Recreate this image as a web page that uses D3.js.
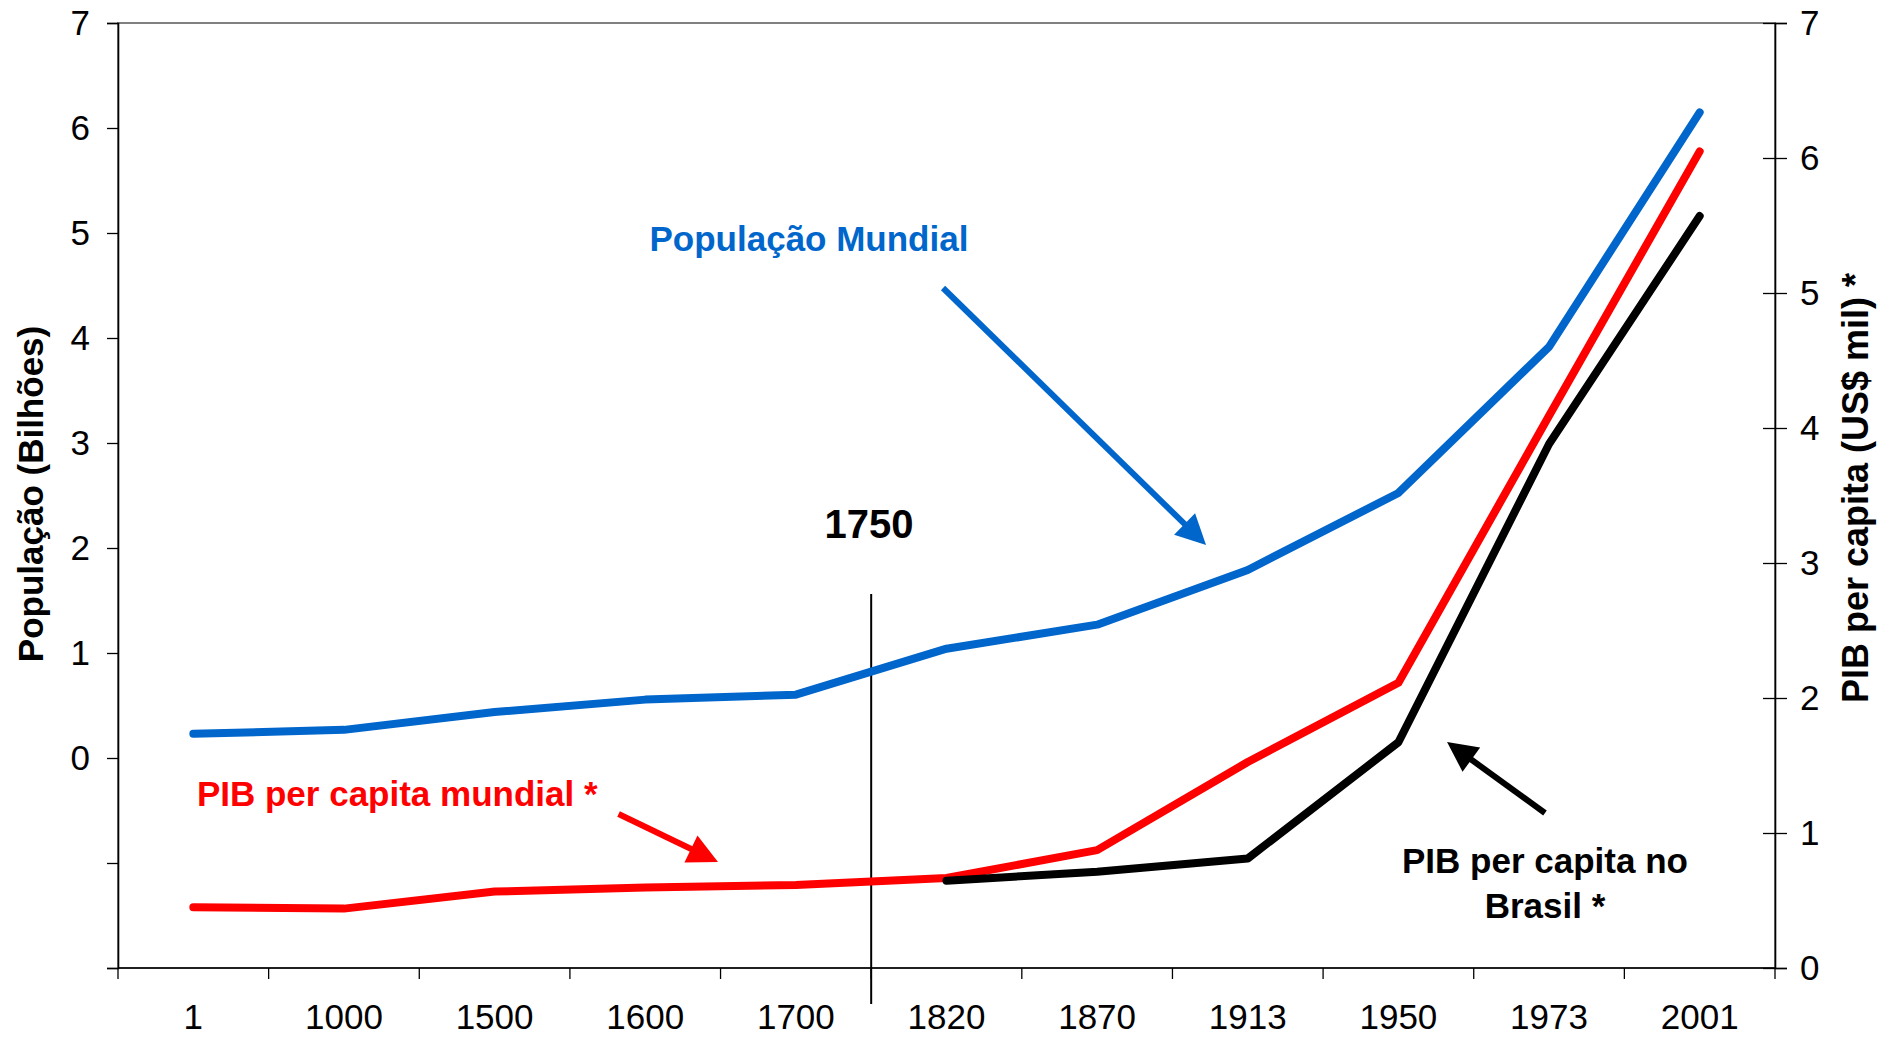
<!DOCTYPE html>
<html>
<head>
<meta charset="utf-8">
<script src="https://cdn.jsdelivr.net/npm/d3@7"></script>
<style>
  html, body { margin: 0; padding: 0; background: #fff; }
  svg { display: block; font-family: "Liberation Sans", Arial, Helvetica, sans-serif; }
</style>
</head>
<body>
<svg id="chart" width="1883" height="1037"></svg>
<script>
// ---------------- data ----------------
const categories = ["1", "1000", "1500", "1600", "1700", "1820", "1870", "1913", "1950", "1973", "2001"];
// World population, billions (left axis)
const populacaoMundial = [0.231, 0.268, 0.438, 0.556, 0.603, 1.041, 1.270, 1.791, 2.524, 3.916, 6.149];
// World GDP per capita, thousand US$ (right axis)
const pibMundial = [0.45, 0.44, 0.566, 0.596, 0.615, 0.667, 0.873, 1.526, 2.113, 4.091, 6.049];
// Brazil GDP per capita, thousand US$ (right axis), from 1820 on
const pibBrasilCats = ["1820", "1870", "1913", "1950", "1973", "2001"];
const pibBrasil = [0.646, 0.713, 0.811, 1.672, 3.882, 5.570];

const leftTicks = [-2, -1, 0, 1, 2, 3, 4, 5, 6, 7];
const rightTicks = [0, 1, 2, 3, 4, 5, 6, 7];

// ---------------- layout ----------------
const L = 118, R = 1775, T = 23, B = 968;
const svg = d3.select("#chart");

const x = d3.scaleBand().domain(categories).range([L, R]).padding(0);
const xu = d3.scaleLinear().domain([0, categories.length]).range([L, R]); // band units
const yL = d3.scaleLinear().domain([-2, 7]).range([B, T]);
const yR = d3.scaleLinear().domain([0, 7]).range([B, T]);
const cx = c => x(c) + x.bandwidth() / 2;

// plot frame (grey)
svg.append("rect")
  .attr("x", L).attr("y", T).attr("width", R - L).attr("height", B - T)
  .attr("fill", "none").attr("stroke", "#808080").attr("stroke-width", 2);

// left axis
const gL = svg.append("g").attr("transform", `translate(${L},0)`)
  .call(d3.axisLeft(yL).tickValues(leftTicks)
    .tickFormat(d => d >= 0 ? d3.format("d")(d) : "").tickSize(11).tickPadding(17));
gL.select(".domain").attr("stroke", "#000").attr("stroke-width", 1.6);
gL.selectAll(".tick line").attr("stroke", "#000").attr("stroke-width", 1.3);
gL.selectAll(".tick text").attr("font-size", 35).attr("fill", "#000")
  .attr("font-family", "Liberation Sans, Arial, sans-serif");

// right axis
const gR = svg.append("g").attr("transform", `translate(${R},0)`)
  .call(d3.axisRight(yR).tickValues(rightTicks).tickFormat(d3.format("d"))
    .tickSize(12).tickPadding(13));
gR.select(".domain").attr("stroke", "#000").attr("stroke-width", 1.6);
gR.selectAll(".tick line").attr("x1", -12).attr("stroke", "#000").attr("stroke-width", 1.3);
gR.selectAll(".tick text").attr("font-size", 35).attr("fill", "#000")
  .attr("font-family", "Liberation Sans, Arial, sans-serif");

// bottom axis: labels centred in bands, ticks at band boundaries
const gB = svg.append("g").attr("transform", `translate(0,${B})`);
gB.append("line").attr("x1", L).attr("x2", R).attr("y1", 0).attr("y2", 0)
  .attr("stroke", "#000").attr("stroke-width", 1.6);
const boundaries = d3.range(categories.length + 1);
gB.selectAll("line.tk").data(boundaries).join("line").attr("class", "tk")
  .attr("x1", d => xu(d)).attr("x2", d => xu(d)).attr("y1", 0).attr("y2", 11)
  .attr("stroke", "#000").attr("stroke-width", 1.3);
gB.selectAll("text").data(categories).join("text")
  .attr("x", d => cx(d)).attr("y", 61)
  .attr("text-anchor", "middle").attr("font-size", 35).attr("fill", "#000")
  .text(d => d);

// axis titles
svg.append("text")
  .attr("transform", `translate(43,494) rotate(-90)`)
  .attr("text-anchor", "middle").attr("font-size", 35).attr("font-weight", "bold")
  .text("População (Bilhões)");
svg.append("text")
  .attr("transform", `translate(1868,488) rotate(-90)`)
  .attr("text-anchor", "middle").attr("font-size", 36).attr("font-weight", "bold")
  .text("PIB per capita (US$ mil) *");

// 1750 marker
svg.append("line")
  .attr("x1", xu(5)).attr("x2", xu(5)).attr("y1", yL(1.562)).attr("y2", yL(-2.343))
  .attr("stroke", "#000").attr("stroke-width", 2);
svg.append("text").attr("x", xu(4.985)).attr("y", yL(2.095))
  .attr("text-anchor", "middle").attr("font-size", 40).attr("font-weight", "bold")
  .text("1750");

// series lines
const lineL = d3.line().x((d, i) => cx(categories[i])).y(d => yL(d));
const lineR = d3.line().x((d, i) => cx(categories[i])).y(d => yR(d));
const lineBr = d3.line().x((d, i) => cx(pibBrasilCats[i])).y(d => yR(d));

svg.append("path").datum(pibMundial).attr("d", lineR)
  .attr("fill", "none").attr("stroke", "#FF0000").attr("stroke-width", 8)
  .attr("stroke-linejoin", "round").attr("stroke-linecap", "round");
svg.append("path").datum(pibBrasil).attr("d", lineBr)
  .attr("fill", "none").attr("stroke", "#000000").attr("stroke-width", 8)
  .attr("stroke-linejoin", "round").attr("stroke-linecap", "round");
svg.append("path").datum(populacaoMundial).attr("d", lineL)
  .attr("fill", "none").attr("stroke", "#0066CC").attr("stroke-width", 8)
  .attr("stroke-linejoin", "round").attr("stroke-linecap", "round");

// annotations (positions in band units / left-axis units)
function arrow(u0, v0, u1, v1, color) {
  const x0 = xu(u0), y0 = yL(v0), x1 = xu(u1), y1 = yL(v1);
  const dx = x1 - x0, dy = y1 - y0, len = Math.hypot(dx, dy);
  const ux = dx / len, uy = dy / len, hl = 30, hw = 15;
  const bx = x1 - ux * hl, by = y1 - uy * hl;
  svg.append("line").attr("x1", x0).attr("y1", y0).attr("x2", bx + ux * 2).attr("y2", by + uy * 2)
    .attr("stroke", color).attr("stroke-width", 6);
  svg.append("path")
    .attr("d", `M${x1},${y1}L${bx - uy * hw},${by + ux * hw}L${bx + uy * hw},${by - ux * hw}Z`)
    .attr("fill", color);
}

svg.append("text").attr("x", xu(4.587)).attr("y", yL(4.829))
  .attr("text-anchor", "middle").attr("font-size", 35).attr("font-weight", "bold")
  .attr("fill", "#0066CC").text("População Mundial");
arrow(5.477, 4.476, 7.223, 2.029, "#0066CC");

svg.append("text").attr("x", xu(0.524)).attr("y", yL(-0.457))
  .attr("text-anchor", "start").attr("font-size", 35).attr("font-weight", "bold")
  .attr("fill", "#FF0000").text("PIB per capita mundial *");
arrow(3.323, -0.533, 3.983, -0.990, "#FF0000");

arrow(9.473, -0.524, 8.823, 0.152, "#000000");
svg.append("text").attr("x", xu(9.473)).attr("y", yL(-1.095))
  .attr("text-anchor", "middle").attr("font-size", 35).attr("font-weight", "bold")
  .attr("fill", "#000").text("PIB per capita no");
svg.append("text").attr("x", xu(9.473)).attr("y", yL(-1.524))
  .attr("text-anchor", "middle").attr("font-size", 35).attr("font-weight", "bold")
  .attr("fill", "#000").text("Brasil *");
</script>
</body>
</html>
